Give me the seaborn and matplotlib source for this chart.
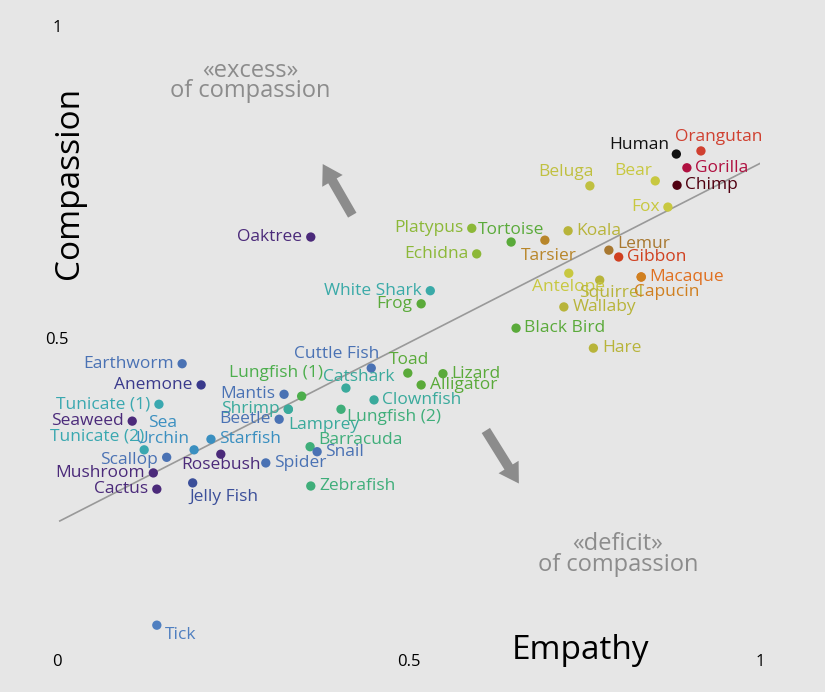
import numpy as np
import pandas as pd
import seaborn as sns
import matplotlib.pyplot as plt

# values (empathy, compassion)
names = ['Earthworm', 'Anemone', 'Tunicate (1)', 'Seaweed', 'Tunicate (2)', 'Sea\nUrchin',
         'Starfish', 'Scallop', 'Mushroom', 'Cactus', 'Jelly Fish', 'Rosebush', 'Spider',
         'Mantis', 'Lungfish (1)', 'Shrimp', 'Lamprey', 'Beetle', 'Catshark', 'Cuttle Fish',
         'Lungfish (2)', 'Clownfish', 'Barracuda', 'Snail', 'Zebrafish', 'Toad', 'Lizard',
         'Alligator', 'Human', 'Orangutan', 'Gorilla', 'Chimp', 'Bear', 'Beluga', 'Fox',
         'Platypus', 'Tortoise', 'Tarsier', 'Koala', 'Echidna', 'Lemur', 'Gibbon', 'Antelope',
         'Squirrel', 'Macaque', 'Capucin', 'White Shark', 'Frog', 'Wallaby', 'Black Bird',
         'Hare', 'Oaktree', 'Tick']
empathy = [0.178, 0.205, 0.145, 0.107, 0.124, 0.195, 0.219, 0.156, 0.137, 0.142, 0.193,
           0.233, 0.297, 0.323, 0.348, 0.329, 0.329, 0.316, 0.411, 0.447, 0.404, 0.451,
           0.360, 0.370, 0.361, 0.499, 0.549, 0.518, 0.881, 0.916, 0.896, 0.882, 0.851,
           0.758, 0.869, 0.590, 0.646, 0.694, 0.727, 0.597, 0.785, 0.799, 0.728, 0.772,
           0.831, 0.831, 0.531, 0.518, 0.721, 0.653, 0.763, 0.361, 0.142]
compassion = [0.462, 0.428, 0.397, 0.370, 0.324, 0.324, 0.341, 0.312, 0.287, 0.261, 0.271,
              0.317, 0.303, 0.413, 0.410, 0.389, 0.389, 0.373, 0.423, 0.455, 0.389, 0.404,
              0.329, 0.321, 0.266, 0.447, 0.446, 0.428, 0.798, 0.803, 0.776, 0.748, 0.755,
              0.747, 0.713, 0.679, 0.657, 0.660, 0.675, 0.638, 0.644, 0.633, 0.607, 0.596,
              0.601, 0.601, 0.579, 0.558, 0.553, 0.519, 0.487, 0.665, 0.043]
colors = ['#4a72b4', '#3a3a8c', '#3aa8b0', '#4b2a7a', '#3aa8b0', '#3a8fc0',
          '#3a8fc0', '#4a72b4', '#4b2a7a', '#4b2a7a', '#3b4f9a', '#4b2a7a', '#4a72b4',
          '#4a72b4', '#4cae4c', '#3aaa9c', '#3aaa9c', '#4a72b4', '#3aaa9c', '#4a72b4',
          '#3fae7a', '#3aaa9c', '#3fae7a', '#4a72b4', '#3fae7a', '#5aaa3a', '#5aaa3a',
          '#5aaa3a', '#111111', '#d04030', '#b01040', '#500010', '#c8c840', '#c0c040',
          '#c8c840', '#8cb838', '#5aaa3a', '#b8862a', '#b8b43a', '#8cb838', '#a87830',
          '#d04020', '#c8c840', '#b8b43a', '#e07020', '#d08020', '#3aaaa8', '#5aaa3a',
          '#b8b43a', '#5aaa3a', '#b8b43a', '#4b2a7a', '#4f7fc0']
trend_x = [0.004, 1.0]
trend_y = [0.210, 0.783]

df = pd.DataFrame({'empathy': empathy, 'compassion': compassion, 'name': names})

# label placement: (ha, dx, dy); default is to the right of the point
R = ('right', -0.012, 0)
place = {
    'Earthworm': R, 'Anemone': R, 'Tunicate (1)': R, 'Seaweed': R,
    'Tunicate (2)': ('right', 0.0, 0.022), 'Sea\nUrchin': ('right', -0.006, 0.03),
    'Scallop': ('right', -0.012, -0.005), 'Mushroom': R, 'Cactus': R,
    'Jelly Fish': ('left', -0.005, -0.022), 'Rosebush': ('center', 0, -0.018),
    'Mantis': R, 'Lungfish (1)': ('right', 0.03, 0.037), 'Shrimp': R,
    'Lamprey': ('left', 0.0, -0.026), 'Beetle': R, 'Catshark': ('center', 0.018, 0.018),
    'Cuttle Fish': ('right', 0.012, 0.022), 'Lungfish (2)': ('left', 0.008, -0.013),
    'Barracuda': ('left', 0.012, 0.01), 'Toad': ('right', 0.03, 0.021),
    'Human': ('right', -0.01, 0.014), 'Orangutan': ('left', -0.037, 0.022),
    'Bear': ('right', -0.005, 0.016), 'Beluga': ('right', 0.005, 0.022), 'Fox': R,
    'Platypus': R, 'Tortoise': ('center', 0, 0.02), 'Tarsier': ('center', 0.005, -0.025),
    'Echidna': R, 'Lemur': ('left', 0.012, 0.01), 'Antelope': ('center', 0, -0.022),
    'Squirrel': ('left', -0.03, -0.02), 'Capucin': ('left', -0.01, -0.024),
    'White Shark': R, 'Frog': R, 'Oaktree': R, 'Tick': ('left', 0.012, -0.015),
}

fig = plt.figure(figsize=(8.25, 6.92), dpi=100, facecolor='#e6e6e6')
ax = fig.add_axes([57 / 825, 40 / 692, 703 / 825, 624 / 692])
ax.set_facecolor('#e6e6e6')
ax.plot(trend_x, trend_y, color='#999999', lw=1.2, zorder=1)
sns.scatterplot(data=df, x='empathy', y='compassion', hue='name', palette=colors,
                s=45, edgecolor='none', legend=False, ax=ax, zorder=3)
ax.set_xlim(0, 1)
ax.set_ylim(0, 1)
ax.axis('off')

font = 'Open Sans'
for n, x, y, c in zip(names, empathy, compassion, colors):
    ha, dx, dy = place.get(n, ('left', 0.012, 0))
    ax.text(x + dx, y + dy, n, color=c, ha=ha, va='center', fontsize=12.5,
            family=font, linespacing=0.95, multialignment='center')

# axis tick labels
for tx, ty, s in [(0, 1, '1'), (0, 0.5, '0.5'), (0, -0.016, '0'),
                  (0.5, -0.016, '0.5'), (1, -0.016, '1')]:
    ax.text(tx, ty, s, ha='center', va='center', fontsize=12, family=font, clip_on=False)
ax.text(0.018, 0.752, 'Compassion', rotation=90, ha='center', va='center', fontsize=24,
        family=font)
ax.text(0.745, 0.003, 'Empathy', ha='center', va='center', fontsize=24, family=font)

ax.text(0.275, 0.915, '«excess»\nof compassion', ha='center', va='center', fontsize=17,
        color='#8c8c8c', family=font, linespacing=0.8)
ax.text(0.798, 0.156, '«deficit»\nof compassion', ha='center', va='center', fontsize=17,
        color='#8c8c8c', family=font, linespacing=0.8)
ax.annotate('', xy=(0.378, 0.782), xytext=(0.42, 0.7),
            arrowprops=dict(width=7, headwidth=17, headlength=14, color='#8c8c8c', lw=0))
ax.annotate('', xy=(0.657, 0.27), xytext=(0.61, 0.355),
            arrowprops=dict(width=7, headwidth=17, headlength=14, color='#8c8c8c', lw=0))

fig.savefig('out.png', dpi=100, facecolor='#e6e6e6')
